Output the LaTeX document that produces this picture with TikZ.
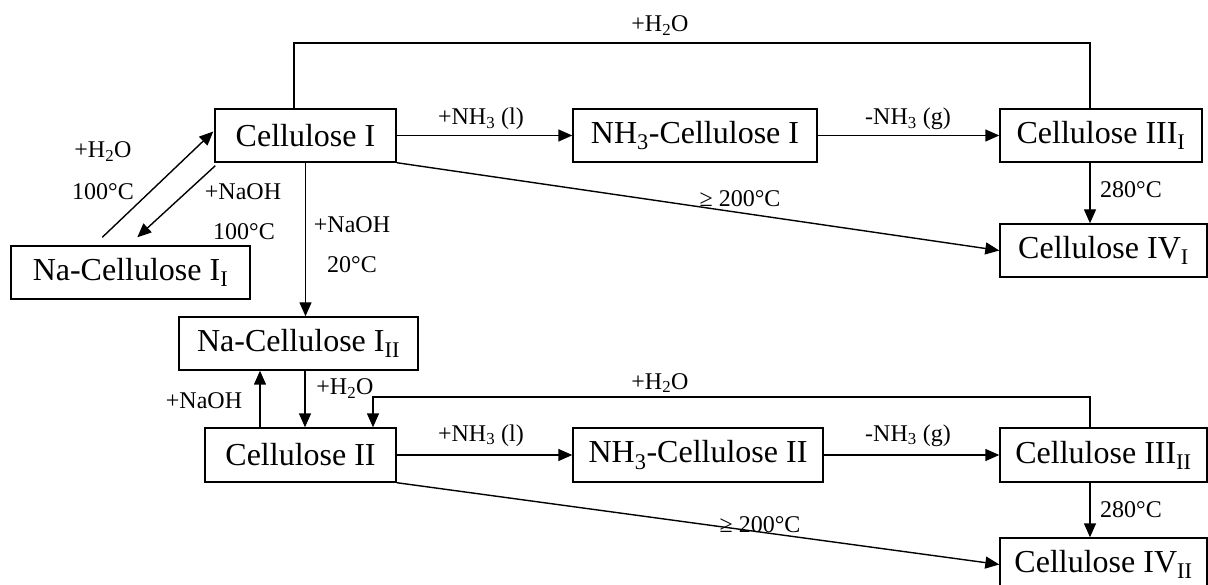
\documentclass[tikz,border=0pt]{standalone}
\usepackage{fontspec}
\setmainfont{Liberation Serif}
\usetikzlibrary{arrows.meta,calc}
\begin{document}
\begin{tikzpicture}[x=1pt,y=-1pt,line width=1.4pt,
  >={Triangle[length=14pt,width=12pt]},
  box/.style={draw,inner sep=0pt,minimum height=53pt,font=\fontsize{32}{38}\selectfont},
  lbl/.style={font=\fontsize{24}{28}\selectfont,anchor=base,inner sep=0pt}]
\useasboundingbox (0,0) rectangle (1208,585);
% boxes
\node[box,minimum width=181pt] (c1) at (305.5,135.5) {Cellulose I};
\node[box,minimum width=239pt] (nacI) at (130.5,272.5) {Na-Cellulose I\textsubscript{I}};
\node[box,minimum width=239pt] (nacII) at (298.5,343.5) {Na-Cellulose I\textsubscript{II}};
\node[box,minimum width=191pt,minimum height=54pt] (c2) at (300.5,455) {Cellulose II};
\node[box,minimum width=244pt] (nh1) at (695,135.5) {NH\textsubscript{3}-Cellulose I};
\node[box,minimum width=250pt,minimum height=54pt] (nh2) at (698,455) {NH\textsubscript{3}-Cellulose II};
\node[box,minimum width=202pt] (c3I) at (1101,135.5) {Cellulose III\textsubscript{I}};
\node[box,minimum width=207pt] (c4I) at (1103.5,250.5) {Cellulose IV\textsubscript{I}};
\node[box,minimum width=207pt,minimum height=54pt] (c3II) at (1103.5,455) {Cellulose III\textsubscript{II}};
\node[box,minimum width=207pt] (c4II) at (1103.5,564.5) {Cellulose IV\textsubscript{II}};
% top row
\draw[->] (c1.east) -- (nh1.west);
\draw[->] (nh1.east) -- (c3I.west);
\draw[->] (1090,0 |- c3I.south) -- (1090,0 |- c4I.north);
\draw (c1.north -| 294,0) -- (294,43) -- (1090,43) -- (c3I.north -| 1090,0);
\draw[->] (c1.south east) -- (c4I.west);
% left
\draw[->] ($(nacI.north west)+(92,-8)$) -- ($(c1.west)+(-1,-4)$);
\draw[->] ($(c1.south west)+(1,3)$) -- ($(nacI.north west)+(127,-8)$);
\draw[->] (c1.south) -- (c1.south |- nacII.north);
\draw[->] (305,0 |- nacII.south) -- (305,0 |- c2.north);
\draw[->] (260,0 |- c2.north) -- (260,0 |- nacII.south);
% bottom row
\draw[->] (c2.east) -- (nh2.west);
\draw[->] (nh2.east) -- (c3II.west);
\draw[->] (1090,0 |- c3II.south) -- (1090,0 |- c4II.north);
\draw[->] (c3II.north -| 1090,0) |- (373,397) -- (373,0 |- c2.north);
\draw[->] (c2.south east) -- (c4II.west);
% labels
\node[lbl] (l1) at (660,32) {+H\textsubscript{2}O};
\node[lbl] (l2) at (481,125) {+NH\textsubscript{3} (l)};
\node[lbl] (l3) at (908,125) {-NH\textsubscript{3} (g)};
\node[lbl] (l4) at (103,158) {+H\textsubscript{2}O};
\node[lbl] (l5) at (103,200) {100°C};
\node[lbl] (l6) at (243,200) {+NaOH};
\node[lbl] (l7) at (244,240) {100°C};
\node[lbl] (l8) at (352,233) {+NaOH};
\node[lbl] (l9) at (352,273) {20°C};
\node[lbl] (l10) at (740,207) {≥ 200°C};
\node[lbl] (l11) at (1131,198) {280°C};
\node[lbl] (l12) at (204,408) {+NaOH};
\node[lbl] (l13) at (345,395) {+H\textsubscript{2}O};
\node[lbl] (l14) at (660,389) {+H\textsubscript{2}O};
\node[lbl] (l15) at (481,441) {+NH\textsubscript{3} (l)};
\node[lbl] (l16) at (908,441) {-NH\textsubscript{3} (g)};
\node[lbl] (l17) at (760,532) {≥ 200°C};
\node[lbl] (l18) at (1131,517) {280°C};
\end{tikzpicture}
\end{document}
